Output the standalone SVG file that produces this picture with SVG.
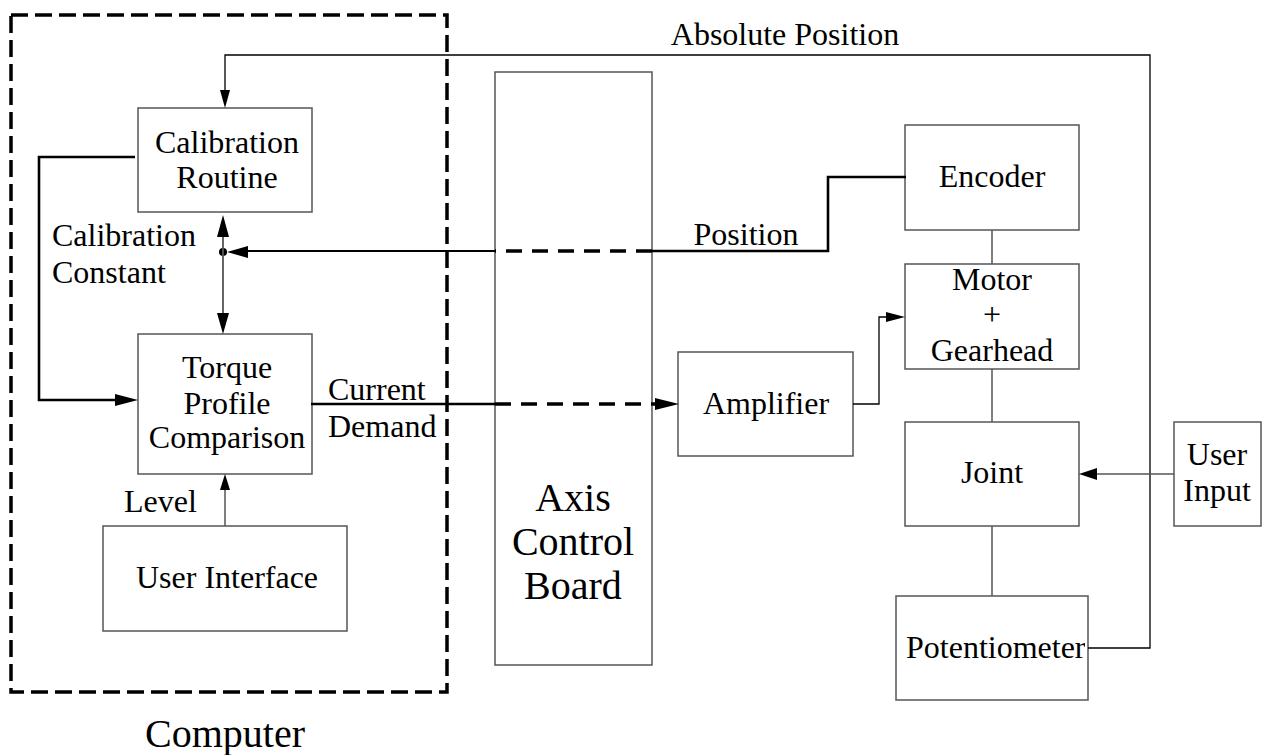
<svg xmlns="http://www.w3.org/2000/svg" width="1263" height="755" viewBox="0 0 1263 755" font-family="Liberation Serif, Times New Roman, serif">
<style>
.box{fill:#fff;stroke:#555;stroke-width:1.5}
.t{font-size:32px;fill:#000;text-anchor:middle}
.tl{font-size:32px;fill:#000}
.big{font-size:40px;fill:#000;text-anchor:middle}
.thin{fill:none;stroke:#000;stroke-width:1.3}
.gray{fill:none;stroke:#555;stroke-width:1.5}
.thick{fill:none;stroke:#000;stroke-width:2.6}
.dash{fill:none;stroke:#000;stroke-width:3.5;stroke-dasharray:16 10}
.ah{fill:#000}
</style>
<defs>
<clipPath id="potclip"><rect x="896" y="596" width="189" height="104"/></clipPath>
</defs>
<g id="computer">
<rect x="11" y="15" width="436" height="677" fill="none" stroke="#000" stroke-width="3.5" stroke-dasharray="17 7"/>
<text class="big" x="225" y="747">Computer</text>
</g>
<g id="calibration">
<rect class="box" x="138" y="108" width="174" height="104"/>
<text class="t" x="227" y="153">Calibration</text>
<text class="t" x="227" y="188">Routine</text>
</g>
<g id="labels">
<text class="tl" x="52" y="246">Calibration</text>
<text class="tl" x="52" y="283">Constant</text>
<text class="tl" x="328" y="400">Current</text>
<text class="tl" x="328" y="437">Demand</text>
<text class="tl" x="124" y="512">Level</text>
<text class="t" x="785" y="45">Absolute Position</text>
<text class="t" x="746" y="245">Position</text>
</g>
<g id="torque">
<rect class="box" x="138" y="334" width="174" height="140"/>
<text class="t" x="227" y="378">Torque</text>
<text class="t" x="227" y="414">Profile</text>
<text class="t" x="227" y="448">Comparison</text>
</g>
<g id="user-interface">
<rect class="box" x="103" y="526" width="244" height="105"/>
<text class="t" x="227" y="588">User Interface</text>
</g>
<g id="axis-board">
<rect class="box" x="495" y="72" width="157" height="593"/>
<text class="big" x="573" y="511">Axis</text>
<text class="big" x="573" y="555">Control</text>
<text class="big" x="573" y="599">Board</text>
</g>
<g id="amplifier">
<rect class="box" x="678" y="352" width="175" height="104"/>
<text class="t" x="766" y="414">Amplifier</text>
</g>
<g id="encoder">
<rect class="box" x="905" y="125" width="174" height="105"/>
<text class="t" x="992" y="187">Encoder</text>
</g>
<g id="motor">
<rect class="box" x="905" y="264" width="174" height="105"/>
<text class="t" x="992" y="290">Motor</text>
<text class="t" x="992" y="325">+</text>
<text class="t" x="992" y="361">Gearhead</text>
</g>
<g id="joint">
<rect class="box" x="905" y="422" width="174" height="104"/>
<text class="t" x="992" y="483">Joint</text>
</g>
<g id="potentiometer">
<rect class="box" x="896" y="596" width="192" height="104"/>
<text class="tl" x="906" y="658" clip-path="url(#potclip)">Potentiometer</text>
</g>
<g id="user-input">
<rect class="box" x="1174" y="422" width="87" height="104"/>
<text class="t" x="1217" y="465">User</text>
<text class="t" x="1217" y="501">Input</text>
</g>
<g id="connectors">
<polyline class="thin" points="1088,648 1150,648 1150,55 225,55 225,92"/>
<polygon class="ah" points="225,108 220,90 230,90"/>
<polyline class="thick" points="906,177 828,177 828,251 652,251"/>
<line class="dash" x1="652" y1="251" x2="495" y2="251"/>
<line x1="495" y1="251" x2="244" y2="251" stroke="#000" stroke-width="2"/>
<polygon class="ah" points="227,252 248,246 248,258"/>
<circle cx="223" cy="252" r="4" fill="#000"/>
<line x1="223" y1="232" x2="223" y2="316" stroke="#555" stroke-width="1.8"/>
<polygon class="ah" points="223,215 217,237 229,237"/>
<polygon class="ah" points="223,334 217,313 229,313"/>
<polyline class="thick" points="135,157 39,157 39,400 118,400"/>
<polygon class="ah" points="138,400 115,394 115,406"/>
<line class="thick" x1="311" y1="404" x2="495" y2="404"/>
<line class="dash" x1="495" y1="404" x2="656" y2="404"/>
<polygon class="ah" points="679,404 655,398 655,410"/>
<line class="gray" x1="225" y1="526" x2="225" y2="486"/>
<polygon class="ah" points="225,474 220,490 230,490"/>
<polyline class="thin" points="853,404 879,404 879,317 888,317"/>
<polygon class="ah" points="905,317 886,312 886,322"/>
<line class="gray" x1="1174" y1="474" x2="1094" y2="474"/>
<polygon class="ah" points="1079,474 1097,468 1097,480"/>
<line class="gray" x1="992" y1="230" x2="992" y2="264"/>
<line class="gray" x1="992" y1="369" x2="992" y2="422"/>
<line class="gray" x1="992" y1="526" x2="992" y2="596"/>
</g>
</svg>
